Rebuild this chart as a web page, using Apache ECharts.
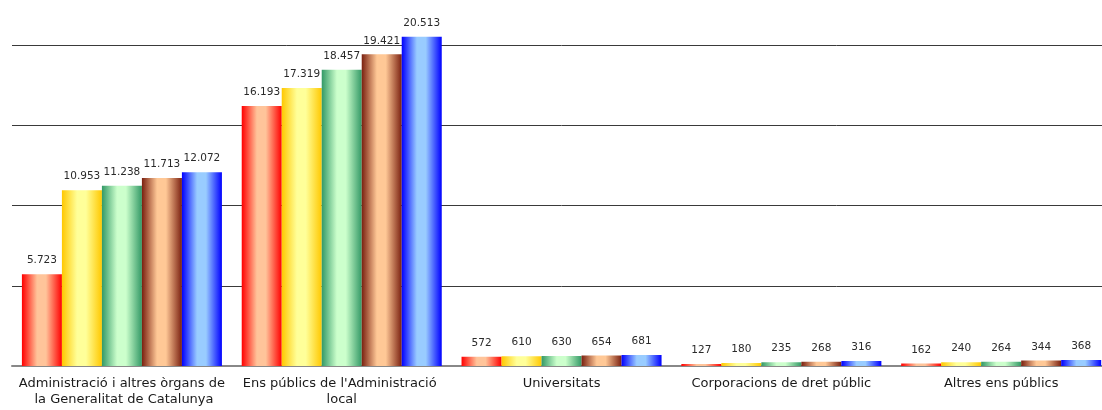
<!DOCTYPE html>
<html>
<head>
<meta charset="utf-8">
<script src="https://cdn.jsdelivr.net/npm/echarts@6/dist/echarts.min.js"></script>
<style>
html,body{margin:0;padding:0;background:#fff;overflow:hidden;width:1102px;height:410px;}
#c{width:1113px;height:410px;}
</style>
</head>
<body>
<div id="c"></div>
<script>
const categories = [
  "Administració i altres òrgans de la Generalitat de Catalunya",
  "Ens públics de l'Administració local",
  "Universitats",
  "Corporacions de dret públic",
  "Altres ens públics"
];
const serie1 = [5723, 16193, 572, 127, 162];
const serie2 = [10953, 17319, 610, 180, 240];
const serie3 = [11238, 18457, 630, 235, 264];
const serie4 = [11713, 19421, 654, 268, 344];
const serie5 = [12072, 20513, 681, 316, 368];
const yTicks = [0, 5000, 10000, 15000, 20000];

const palette = [
  ["#ff0000", "#ffc49a"],
  ["#ffc800", "#ffff99"],
  ["#339966", "#ccffcc"],
  ["#7a2010", "#ffc896"],
  ["#0000ff", "#99ccff"]
];
function grad(p){
  return new echarts.graphic.LinearGradient(0,0,1,0,[
    {offset:0,color:p[0]},
    {offset:0.38,color:p[1]},
    {offset:0.6,color:p[1]},
    {offset:1,color:p[0]}
  ]);
}
function fmt(v){
  return String(v).replace(/\B(?=(\d{3})+(?!\d))/g, ".");
}
const all = [serie1, serie2, serie3, serie4, serie5];
const series = all.map((d,i)=>({
  name: "Sèrie " + (i+1),
  type: "bar",
  data: d,
  barWidth: 40,
  barGap: "0%",
  clip: false,
  itemStyle: { color: grad(palette[i]) },
  label: {
    show: true,
    position: "top",
    distance: 8,
    color: "#2a2a2a",
    fontFamily: "DejaVu Sans",
    fontSize: 10.5,
    formatter: p => fmt(p.value)
  }
}));

const chart = echarts.init(document.getElementById("c"));
chart.setOption({
  animation: false,
  grid: { left: 12, right: 0, top: 45, bottom: 44, containLabel: false },
  xAxis: {
    type: "category",
    data: categories,
    axisTick: { show: false },
    axisLine: { show: true, lineStyle: { color: "#888", width: 2 } },
    axisLabel: {
      interval: 0,
      color: "#1a1a1a",
      fontFamily: "DejaVu Sans",
      fontSize: 13,
      lineHeight: 16,
      margin: 10,
      width: 218,
      overflow: "break"
    }
  },
  yAxis: {
    type: "value",
    min: yTicks[0],
    max: yTicks[yTicks.length-1],
    interval: 5000,
    axisLabel: { show: false },
    axisLine: { show: false },
    axisTick: { show: false },
    splitLine: { show: true, lineStyle: { color: "#3a3a3a", width: 1 } }
  },
  series: series
});
</script>
</body>
</html>
